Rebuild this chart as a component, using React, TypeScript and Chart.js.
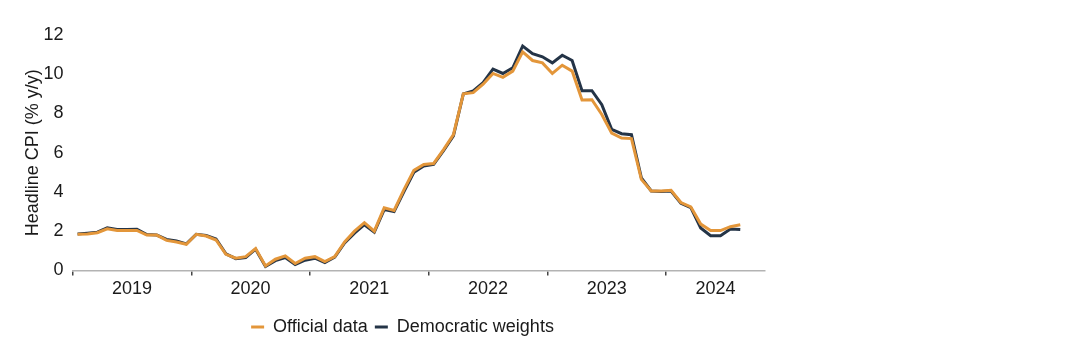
import React, { useEffect, useRef } from "react";
import { Chart, registerables } from "chart.js";

Chart.register(...registerables);

const years = ["2019", "2020", "2021", "2022", "2023", "2024"];
const monthsShown2024 = 10;

const months: string[] = [];
years.forEach((y, yi) => {
  const n = yi === years.length - 1 ? monthsShown2024 : 12;
  for (let m = 1; m <= n; m++) months.push(`${y}-${String(m).padStart(2, "0")}`);
});

const yearLabelIndex = [6, 18, 30, 42, 54, 65];

const official = [
  1.84, 1.85, 1.92, 2.12, 2.04, 2.04, 2.04, 1.8, 1.8, 1.53, 1.45, 1.33,
  1.84, 1.75, 1.55, 0.82, 0.62, 0.7, 1.11, 0.23, 0.57, 0.74, 0.35, 0.62,
  0.7, 0.45, 0.7, 1.45, 2.0, 2.43, 2.0, 3.19, 3.06, 4.12, 5.1, 5.4,
  5.45, 6.16, 6.92, 9.0, 9.06, 9.49, 10.04, 9.84, 10.16, 11.14, 10.7, 10.58,
  10.04, 10.46, 10.16, 8.69, 8.7, 7.95, 7.0, 6.75, 6.72, 4.64, 4.05, 4.05,
  4.08, 3.46, 3.24, 2.36, 2.03, 2.03, 2.23, 2.33,
];

const democratic = [
  1.86, 1.9, 1.95, 2.17, 2.09, 2.09, 2.1, 1.83, 1.8, 1.58, 1.5, 1.35,
  1.84, 1.78, 1.6, 0.85, 0.6, 0.66, 1.08, 0.2, 0.5, 0.66, 0.3, 0.52,
  0.62, 0.4, 0.68, 1.4, 1.9, 2.33, 1.95, 3.1, 3.0, 4.02, 5.0, 5.32,
  5.4, 6.1, 6.86, 9.0, 9.15, 9.57, 10.26, 10.04, 10.33, 11.44, 11.05, 10.89,
  10.58, 10.97, 10.7, 9.16, 9.16, 8.45, 7.19, 6.97, 6.92, 4.72, 4.05, 4.02,
  4.05, 3.42, 3.2, 2.16, 1.77, 1.77, 2.11, 2.08,
];

const seriesNames = ["Official data", "Democratic weights"];
const yTitle = "Headline CPI (% y/y)";

const ORANGE = "#E3963A";
const NAVY = "#243447";
const FONT = "'Liberation Sans', Arial, sans-serif";
const TEXT = "#1a1a1a";

const legendShift = {
  id: "legendShift",
  afterLayout(chart: any) {
    const l = chart.legend;
    if (!l) return;
    l.left += 12;
    l.right += 12;
    if (l.adjustHitBoxes) l.adjustHitBoxes();
  },
};

export default function App() {
  const ref = useRef<HTMLCanvasElement | null>(null);

  useEffect(() => {
    if (!ref.current) return;
    const chart = new Chart(ref.current, {
      type: "line",
      data: {
        labels: months,
        datasets: [
          {
            label: seriesNames[0],
            data: official,
            borderColor: ORANGE,
            backgroundColor: ORANGE,
            borderWidth: 3,
            pointRadius: 0,
            tension: 0,
          },
          {
            label: seriesNames[1],
            data: democratic,
            borderColor: NAVY,
            backgroundColor: NAVY,
            borderWidth: 3,
            pointRadius: 0,
            tension: 0,
          },
        ],
      },
      plugins: [legendShift],
      options: {
        animation: false,
        responsive: true,
        maintainAspectRatio: false,
        layout: { padding: { left: 8, right: 315, top: 27, bottom: 6 } },
        plugins: {
          tooltip: { enabled: false },
          legend: {
            position: "bottom",
            labels: {
              font: { family: FONT, size: 18 },
              color: TEXT,
              boxWidth: 13,
              boxHeight: 3,
              padding: 7,
              generateLabels: (c: any) =>
                Chart.defaults.plugins.legend.labels
                  .generateLabels(c)
                  .map((it: any) => ({ ...it, lineWidth: 0 })),
            },
          },
        },
        scales: {
          x: {
            type: "category",
            offset: true,
            border: { display: true, color: "#b3b3b3", width: 1.5 },
            grid: {
              display: true,
              offset: true,
              drawOnChartArea: false,
              drawTicks: true,
              tickLength: 5,
              color: (ctx: any) => (ctx.index % 12 === 0 ? "#444" : "rgba(0,0,0,0)"),
              lineWidth: 1.5,
            },
            ticks: {
              autoSkip: false,
              maxRotation: 0,
              minRotation: 0,
              padding: 2.5,
              labelOffset: -5,
              color: TEXT,
              font: { family: FONT, size: 18 },
              callback: (_v: any, i: number) => {
                const k = yearLabelIndex.indexOf(i);
                return k >= 0 ? years[k] : "";
              },
            },
            afterFit: (scale: any) => {
              scale.height += 9;
            },
          },
          y: {
            min: 0,
            max: 12,
            border: { display: false },
            grid: { display: false, drawTicks: false, tickLength: 0 },
            ticks: {
              stepSize: 2,
              padding: 9,
              color: TEXT,
              font: { family: FONT, size: 18 },
            },
            title: {
              display: true,
              text: yTitle,
              color: TEXT,
              font: { family: FONT, size: 18 },
              padding: { top: 6, bottom: 1 },
            },
            afterFit: (scale: any) => {
              scale.width -= 10;
            },
          },
        },
      },
    });
    return () => chart.destroy();
  }, []);

  return (
    <div style={{ position: "relative", width: 1072, height: 344 }}>
      <canvas ref={ref} />
    </div>
  );
}
